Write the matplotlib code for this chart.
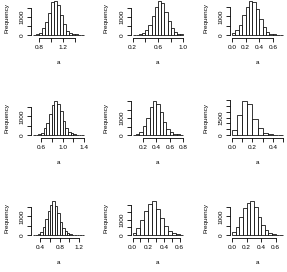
import matplotlib
matplotlib.use("Agg")
import matplotlib.pyplot as plt
import numpy as np

plt.rcParams['font.family'] = ['Liberation Sans', 'DejaVu Sans']

BIN = 0.05

# histogram counts per panel, bins of width 0.05 starting at startN
start1 = 0.70
counts1 = [10, 50, 100, 375, 750, 1250, 1820, 1870, 1690, 1125, 620, 245, 130, 75, 35, 15, 5]
start2 = 0.20
counts2 = [5, 15, 40, 90, 280, 560, 1060, 1580, 1890, 1800, 1300, 790, 400, 180, 85, 45]
start3 = 0.00
counts3 = [100, 270, 540, 1050, 1520, 1800, 1790, 1400, 870, 430, 170, 70, 30, 10, 4]
start4 = 0.45
counts4 = [3, 8, 45, 120, 350, 670, 1150, 1620, 1800, 1680, 1290, 760, 350, 175, 90, 50, 20, 8, 3]
start5 = 0.05
counts5 = [15, 60, 200, 550, 1040, 1670, 2000, 1820, 1370, 780, 330, 175, 80, 40, 15]
start6 = 0.00
counts6 = [425, 1755, 2890, 2690, 1415, 566, 200, 100, 40, 15]
start7 = 0.25
counts7 = [5, 15, 55, 180, 450, 850, 1260, 1620, 1800, 1570, 1170, 720, 400, 215, 110, 55, 25, 10, 5, 3, 1]
start8 = 0.00
counts8 = [150, 450, 1000, 1600, 2050, 2220, 1700, 1100, 580, 260, 110, 40, 15]
start9 = 0.00
counts9 = [180, 440, 960, 1430, 1730, 1800, 1490, 960, 560, 260, 120, 60, 25, 10]

# axis ticks and the labels R kept after dropping overlaps
xticks1 = [0.8, 1.0, 1.2, 1.4]
xlab1 = ['0.8', '', '1.2', '']
xticks2 = [0.2, 0.4, 0.6, 0.8, 1.0]
xlab2 = ['0.2', '', '0.6', '', '1.0']
xticks3 = [0.0, 0.2, 0.4, 0.6]
xlab3 = ['0.0', '0.2', '0.4', '0.6']
xticks4 = [0.6, 0.8, 1.0, 1.2, 1.4]
xlab4 = ['0.6', '', '1.0', '', '1.4']
xticks5 = [0.2, 0.4, 0.6, 0.8]
xlab5 = ['0.2', '0.4', '0.6', '0.8']
xticks6 = [0.0, 0.1, 0.2, 0.3, 0.4, 0.5]
xlab6 = ['0.0', '', '0.2', '', '0.4', '']
xticks7 = [0.4, 0.6, 0.8, 1.0, 1.2]
xlab7 = ['0.4', '', '0.8', '', '1.2']
xticks8 = [0.0, 0.1, 0.2, 0.3, 0.4, 0.5, 0.6]
xlab8 = ['0.0', '', '0.2', '', '0.4', '', '0.6']
xticks9 = [0.0, 0.2, 0.4, 0.6]
xlab9 = ['0.0', '0.2', '0.4', '0.6']

ylab_std = {0: '0', 1000: '1000'}
ylab6 = {0: '0', 1500: '1500'}

panels = [
    (start1, counts1, xticks1, xlab1, ylab_std),
    (start2, counts2, xticks2, xlab2, ylab_std),
    (start3, counts3, xticks3, xlab3, ylab_std),
    (start4, counts4, xticks4, xlab4, ylab_std),
    (start5, counts5, xticks5, xlab5, ylab_std),
    (start6, counts6, xticks6, xlab6, ylab6),
    (start7, counts7, xticks7, xlab7, ylab_std),
    (start8, counts8, xticks8, xlab8, ylab_std),
    (start9, counts9, xticks9, xlab9, ylab_std),
]

W_PX, H_PX = 287, 272
fig = plt.figure(figsize=(W_PX / 100, H_PX / 100), dpi=100)

col_left = [31, 130.5, 230]
row_top = [0, 100, 200]
pw, ph = 55, 36.4
fs = 4.6

for i, (start, counts, xt, xl, yl) in enumerate(panels):
    r, c = divmod(i, 3)
    ax = fig.add_axes([col_left[c] / W_PX, 1 - (row_top[r] + ph) / H_PX, pw / W_PX, ph / H_PX])
    counts = np.array(counts)
    edges = start + BIN * np.arange(len(counts) + 1)
    ax.bar(edges[:-1], counts, width=BIN, align='edge', color='white',
           edgecolor='black', linewidth=0.55)

    # R style limits (4% padding)
    xr = edges[-1] - edges[0]
    ax.set_xlim(edges[0] - 0.04 * xr, edges[-1] + 0.04 * xr)
    ymax = counts.max()
    ax.set_ylim(-0.04 * ymax, 1.04 * ymax)

    yt = np.arange(0, 1.04 * ymax, 500)
    ax.set_yticks(yt)
    ax.set_yticklabels([yl.get(int(v), '') for v in yt], rotation=90, va='center')
    ax.set_xticks(xt)
    ax.set_xticklabels(xl)

    for s in ['top', 'right']:
        ax.spines[s].set_visible(False)
    ax.spines['left'].set_bounds(yt[0], yt[-1])
    ax.spines['bottom'].set_bounds(xt[0], xt[-1])
    ax.spines['left'].set_linewidth(0.6)
    ax.spines['bottom'].set_linewidth(0.6)
    ax.spines['bottom'].set_position(('outward', 1.2))
    ax.tick_params(length=2.8, width=0.6, labelsize=fs, pad=1.6, colors='black')
    ax.tick_params(axis='x', pad=2.2)
    ax.patch.set_visible(False)

    ax.set_xlabel('a', fontsize=fs, labelpad=7)
    ax.set_ylabel('Frequency', fontsize=fs, labelpad=7.5)

fig.savefig('out.png', dpi=100)
